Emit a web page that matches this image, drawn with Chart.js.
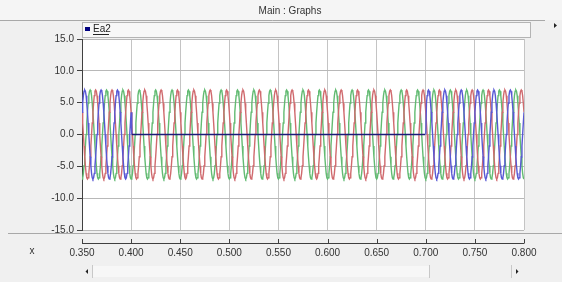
<!DOCTYPE html>
<html lang="en">
<head>
  <meta charset="UTF-8">
  <title>Main : Graphs</title>
  <script src="https://cdn.jsdelivr.net/npm/chart.js"></script>
  <style>
    body {
      margin: 0;
      background: #f0f0f0;
    }
    canvas {
      display: block;
    }
  </style>
</head>
<body>
  <canvas id="graph" width="562" height="282"></canvas>

  <script>
    // one 60 Hz cycle of a phase voltage, sampled every 15 deg (peaks read at about +/-7.0)
    const cycleSamples = [
      0, 1.8, 3.5, 4.9, 6.1, 6.8, 7.0, 6.8, 6.1, 4.9, 3.5, 1.8,
      0, -1.8, -3.5, -4.9, -6.1, -6.8, -7.0, -6.8, -6.1, -4.9, -3.5, -1.8
    ];
    const frequencyHz = 60;
    const timeRange = [0.35, 0.80];
    const faultWindow = [0.40, 0.70];     // blue phase sits at 0 here
    const phaseNames = ['Ea2 c', 'Ea2 b', 'Ea2 a'];
    const phaseShift = [2, 10, 18];       // sample offset in the cycle table (blue, red, green)
    const phaseColors = ['#5858d4', '#d06a6e', '#62bb72'];
    const xTicks = [0.35, 0.40, 0.45, 0.50, 0.55, 0.60, 0.65, 0.70, 0.75, 0.80];
    const yTicks = [-15, -10, -5, 0, 5, 10, 15];

    const dt = 1 / frequencyHz / cycleSamples.length;
    const sampleCount = Math.round((timeRange[1] - timeRange[0]) / dt);

    function phaseSeries(k) {
      const pts = [];
      for (let i = 0; i <= sampleCount; i++) {
        const t = timeRange[0] + i * dt;
        let v = cycleSamples[(i + phaseShift[k]) % cycleSamples.length];
        if (k === 0 && t >= faultWindow[0] && t <= faultWindow[1]) v = 0;
        pts.push({ x: t, y: v });
      }
      return pts;
    }

    const datasets = phaseNames.map((name, k) => ({
      label: name,
      data: phaseSeries(k),
      borderColor: phaseColors[k],
      borderWidth: 1.4,
      pointRadius: 0,
      tension: 0,
      segment: k === 0 ? {
        borderColor: c => (c.p0.parsed.y === 0 && c.p1.parsed.y === 0) ? '#1c1c78' : undefined,
        borderWidth: c => (c.p0.parsed.y === 0 && c.p1.parsed.y === 0) ? 1.6 : undefined
      } : undefined
    }));

    const FONT = '10px "Liberation Sans", Arial, sans-serif';

    const frame = {
      id: 'frame',
      beforeDraw(chart) {
        const g = chart.ctx, a = chart.chartArea;
        g.save();
        g.fillStyle = '#f0f0f0';
        g.fillRect(0, 0, chart.width, chart.height);
        g.fillStyle = '#f5f5f5';
        g.fillRect(0, 0, chart.width, 20);
        g.fillStyle = '#ffffff';
        g.fillRect(a.left, a.top, a.right - a.left, a.bottom - a.top);
        g.restore();
      },
      afterDraw(chart) {
        const g = chart.ctx, a = chart.chartArea, xs = chart.scales.x;
        g.save();
        g.font = FONT;

        // title bar
        g.fillStyle = '#333';
        g.textAlign = 'center';
        g.textBaseline = 'middle';
        g.fillText('Main : Graphs', 290, 11);
        g.strokeStyle = '#a8a8a8';
        g.lineWidth = 1;
        g.beginPath();
        g.moveTo(0, 20.5); g.lineTo(545, 20.5);
        g.stroke();

        // legend strip
        g.fillStyle = '#f7f7f7';
        g.fillRect(82, 22, 448, 15);
        g.strokeStyle = '#b4b4b4';
        g.strokeRect(82.5, 22.5, 448, 15);
        g.fillStyle = '#000080';
        g.fillRect(85, 27, 5, 4);
        g.fillStyle = '#222';
        g.textAlign = 'left';
        g.fillText('Ea2', 93, 29);
        g.fillRect(93, 34, 16, 1);

        // small arrow at right of legend
        g.fillStyle = '#222';
        g.beginPath();
        g.moveTo(554, 23); g.lineTo(557, 25.5); g.lineTo(554, 28);
        g.fill();

        // separator under the plot
        g.strokeStyle = '#a8a8a8';
        g.beginPath();
        g.moveTo(8, 233.5); g.lineTo(562, 233.5);
        g.stroke();

        // detached x axis
        g.strokeStyle = '#404040';
        g.beginPath();
        g.moveTo(a.left, 243.5); g.lineTo(a.right, 243.5);
        xTicks.forEach(v => {
          const px = Math.round(xs.getPixelForValue(v)) + 0.5;
          g.moveTo(px, 239); g.lineTo(px, 243.5);
        });
        g.stroke();

        g.fillStyle = '#333';
        g.textAlign = 'center';
        g.fillText('x', 32, 251);

        // scroll bar
        g.fillStyle = '#f7f7f7';
        g.fillRect(92, 266, 337, 11);
        g.strokeStyle = '#c8c8c8';
        g.beginPath();
        g.moveTo(92.5, 265); g.lineTo(92.5, 278);
        g.moveTo(429.5, 265); g.lineTo(429.5, 278);
        g.moveTo(511.5, 265); g.lineTo(511.5, 278);
        g.stroke();
        g.fillStyle = '#222';
        g.beginPath();
        g.moveTo(88, 269); g.lineTo(85.5, 271.5); g.lineTo(88, 274);
        g.fill();
        g.beginPath();
        g.moveTo(516, 269); g.lineTo(518.5, 271.5); g.lineTo(516, 274);
        g.fill();
        g.restore();
      }
    };

    new Chart(document.getElementById('graph'), {
      type: 'line',
      data: { datasets },
      options: {
        responsive: false,
        animation: false,
        events: [],
        layout: { padding: { left: 0, top: 39, right: 38, bottom: 0 } },
        plugins: {
          legend: { display: false },
          tooltip: { enabled: false }
        },
        scales: {
          x: {
            type: 'linear',
            min: timeRange[0],
            max: timeRange[1],
            afterFit: s => { s.height = 52; },
            afterBuildTicks: s => { s.ticks = xTicks.map(v => ({ value: v })); },
            border: { display: false },
            grid: { color: '#c4c4c4', drawTicks: false },
            ticks: {
              padding: 17,
              color: '#333',
              font: { family: '"Liberation Sans", Arial, sans-serif', size: 10 },
              maxRotation: 0,
              callback: v => v.toFixed(3)
            }
          },
          y: {
            min: -15,
            max: 15,
            afterFit: s => { s.width = 82; },
            afterBuildTicks: s => { s.ticks = yTicks.map(v => ({ value: v })); },
            border: { display: true, color: '#404040' },
            grid: { color: '#b8b8b8', tickColor: '#404040', tickLength: 5 },
            ticks: {
              padding: 3,
              color: '#333',
              font: { family: '"Liberation Sans", Arial, sans-serif', size: 10 },
              callback: v => v.toFixed(1)
            }
          }
        }
      },
      plugins: [frame]
    });
  </script>
</body>
</html>
